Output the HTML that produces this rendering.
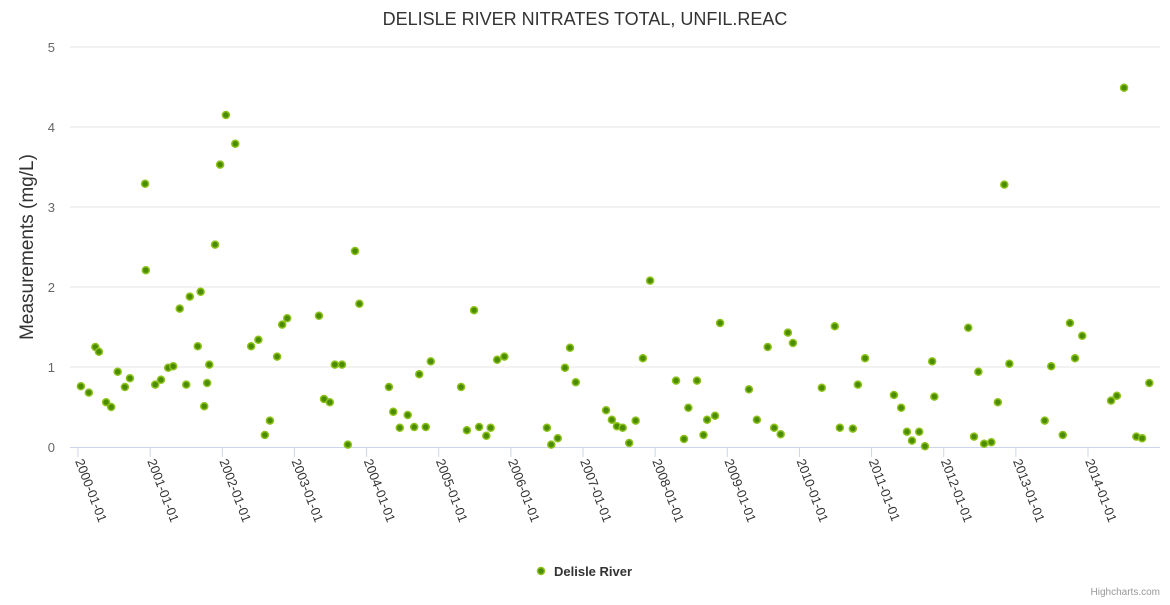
<!DOCTYPE html>
<html><head><meta charset="utf-8"><style>
body{margin:0;background:#fff;font-family:"Liberation Sans",sans-serif}
</style></head><body>
<svg id="chart" width="1170" height="600" xmlns="http://www.w3.org/2000/svg" style="font-family:'Liberation Sans',sans-serif">
<text x="585" y="25" text-anchor="middle" font-size="18" fill="#333">DELISLE RIVER NITRATES TOTAL, UNFIL.REAC</text>
<text transform="translate(33,247) rotate(-90)" text-anchor="middle" font-size="19" fill="#333">Measurements (mg/L)</text>
<g id="grid"></g><g id="xaxis"></g><g id="pts"></g>
<g>
<circle cx="541" cy="571" r="3.5" fill="#4c8c00" stroke="#8cc21a" stroke-width="1.5"/>
<text x="554" y="576" font-size="13" font-weight="bold" fill="#333">Delisle River</text></g>
<text x="1160" y="595" text-anchor="end" font-size="10" fill="#999">Highcharts.com</text>
</svg>
<script>
const years=[2000.04,2000.15,2000.24,2000.29,2000.39,2000.46,2000.55,2000.65,2000.72,2000.93,2000.94,2001.07,2001.15,2001.25,2001.32,2001.41,2001.50,2001.55,2001.66,2001.70,2001.75,2001.79,2001.82,2001.90,2001.97,2002.05,2002.18,2002.40,2002.50,2002.59,2002.66,2002.76,2002.83,2002.90,2003.34,2003.41,2003.49,2003.56,2003.66,2003.74,2003.84,2003.90,2004.31,2004.37,2004.46,2004.57,2004.66,2004.73,2004.82,2004.89,2005.31,2005.39,2005.49,2005.56,2005.66,2005.72,2005.81,2005.91,2006.50,2006.56,2006.65,2006.75,2006.82,2006.90,2007.32,2007.40,2007.47,2007.55,2007.64,2007.73,2007.83,2007.93,2008.29,2008.40,2008.46,2008.58,2008.67,2008.72,2008.83,2008.90,2009.30,2009.41,2009.56,2009.65,2009.74,2009.84,2009.91,2010.31,2010.49,2010.56,2010.74,2010.81,2010.91,2011.31,2011.41,2011.49,2011.56,2011.66,2011.74,2011.84,2011.87,2012.34,2012.42,2012.48,2012.56,2012.66,2012.75,2012.84,2012.91,2013.40,2013.49,2013.65,2013.75,2013.82,2013.92,2014.32,2014.40,2014.50,2014.67,2014.75,2014.85];
const values=[0.76,0.68,1.25,1.19,0.56,0.5,0.94,0.75,0.86,3.29,2.21,0.78,0.84,0.99,1.01,1.73,0.78,1.88,1.26,1.94,0.51,0.8,1.03,2.53,3.53,4.15,3.79,1.26,1.34,0.15,0.33,1.13,1.53,1.61,1.64,0.6,0.56,1.03,1.03,0.03,2.45,1.79,0.75,0.44,0.24,0.4,0.25,0.91,0.25,1.07,0.75,0.21,1.71,0.25,0.14,0.24,1.09,1.13,0.24,0.03,0.11,0.99,1.24,0.81,0.46,0.34,0.26,0.24,0.05,0.33,1.11,2.08,0.83,0.1,0.49,0.83,0.15,0.34,0.39,1.55,0.72,0.34,1.25,0.24,0.16,1.43,1.3,0.74,1.51,0.24,0.23,0.78,1.11,0.65,0.49,0.19,0.08,0.19,0.01,1.07,0.63,1.49,0.13,0.94,0.04,0.06,0.56,3.28,1.04,0.33,1.01,0.15,1.55,1.11,1.39,0.58,0.64,4.49,0.13,0.11,0.8];
const yTicks=[0,1,2,3,4,5];
const xTicks=["2000-01-01","2001-01-01","2002-01-01","2003-01-01","2004-01-01","2005-01-01","2006-01-01","2007-01-01","2008-01-01","2009-01-01","2010-01-01","2011-01-01","2012-01-01","2013-01-01","2014-01-01"];
const NS="http://www.w3.org/2000/svg";
function X(y){return 78+(y-2000)*(1010/14);}
function Y(v){return 447-v*80;}
function mk(t,a,p){const e=document.createElementNS(NS,t);for(const k in a)e.setAttribute(k,a[k]);p.appendChild(e);return e;}
const g=document.getElementById('grid'),xa=document.getElementById('xaxis'),pts=document.getElementById('pts');
yTicks.forEach(v=>{
  if(v>0){const l=mk('line',{x1:70,x2:1160,y1:Y(v),y2:Y(v),stroke:'#e6e6e6'},g);
  
  }
  const t=mk('text',{x:55,y:Y(v)+5,'text-anchor':'end','font-size':13,fill:'#666'},g);t.textContent=v;
  
  
});
const ax=mk('line',{x1:70,x2:1160,y1:447.5,y2:447.5,stroke:'#ccd6eb'},xa);


xTicks.forEach(s=>{
  const x=X(parseInt(s));
  mk('line',{x1:x,x2:x,y1:447,y2:457,stroke:'#ccd6eb'},xa);
  const t=mk('text',{transform:`translate(${x-3},${461}) rotate(69)`,'font-size':13,fill:'#333'},xa);t.textContent=s;
  
  
});
years.forEach((yr,i)=>{
  const c=mk('circle',{cx:X(yr),cy:Y(values[i]),r:3.5,fill:'#4c8c00',stroke:'#8cc21a','stroke-width':1.5},pts);
  
  
});
</script>
</body></html>
